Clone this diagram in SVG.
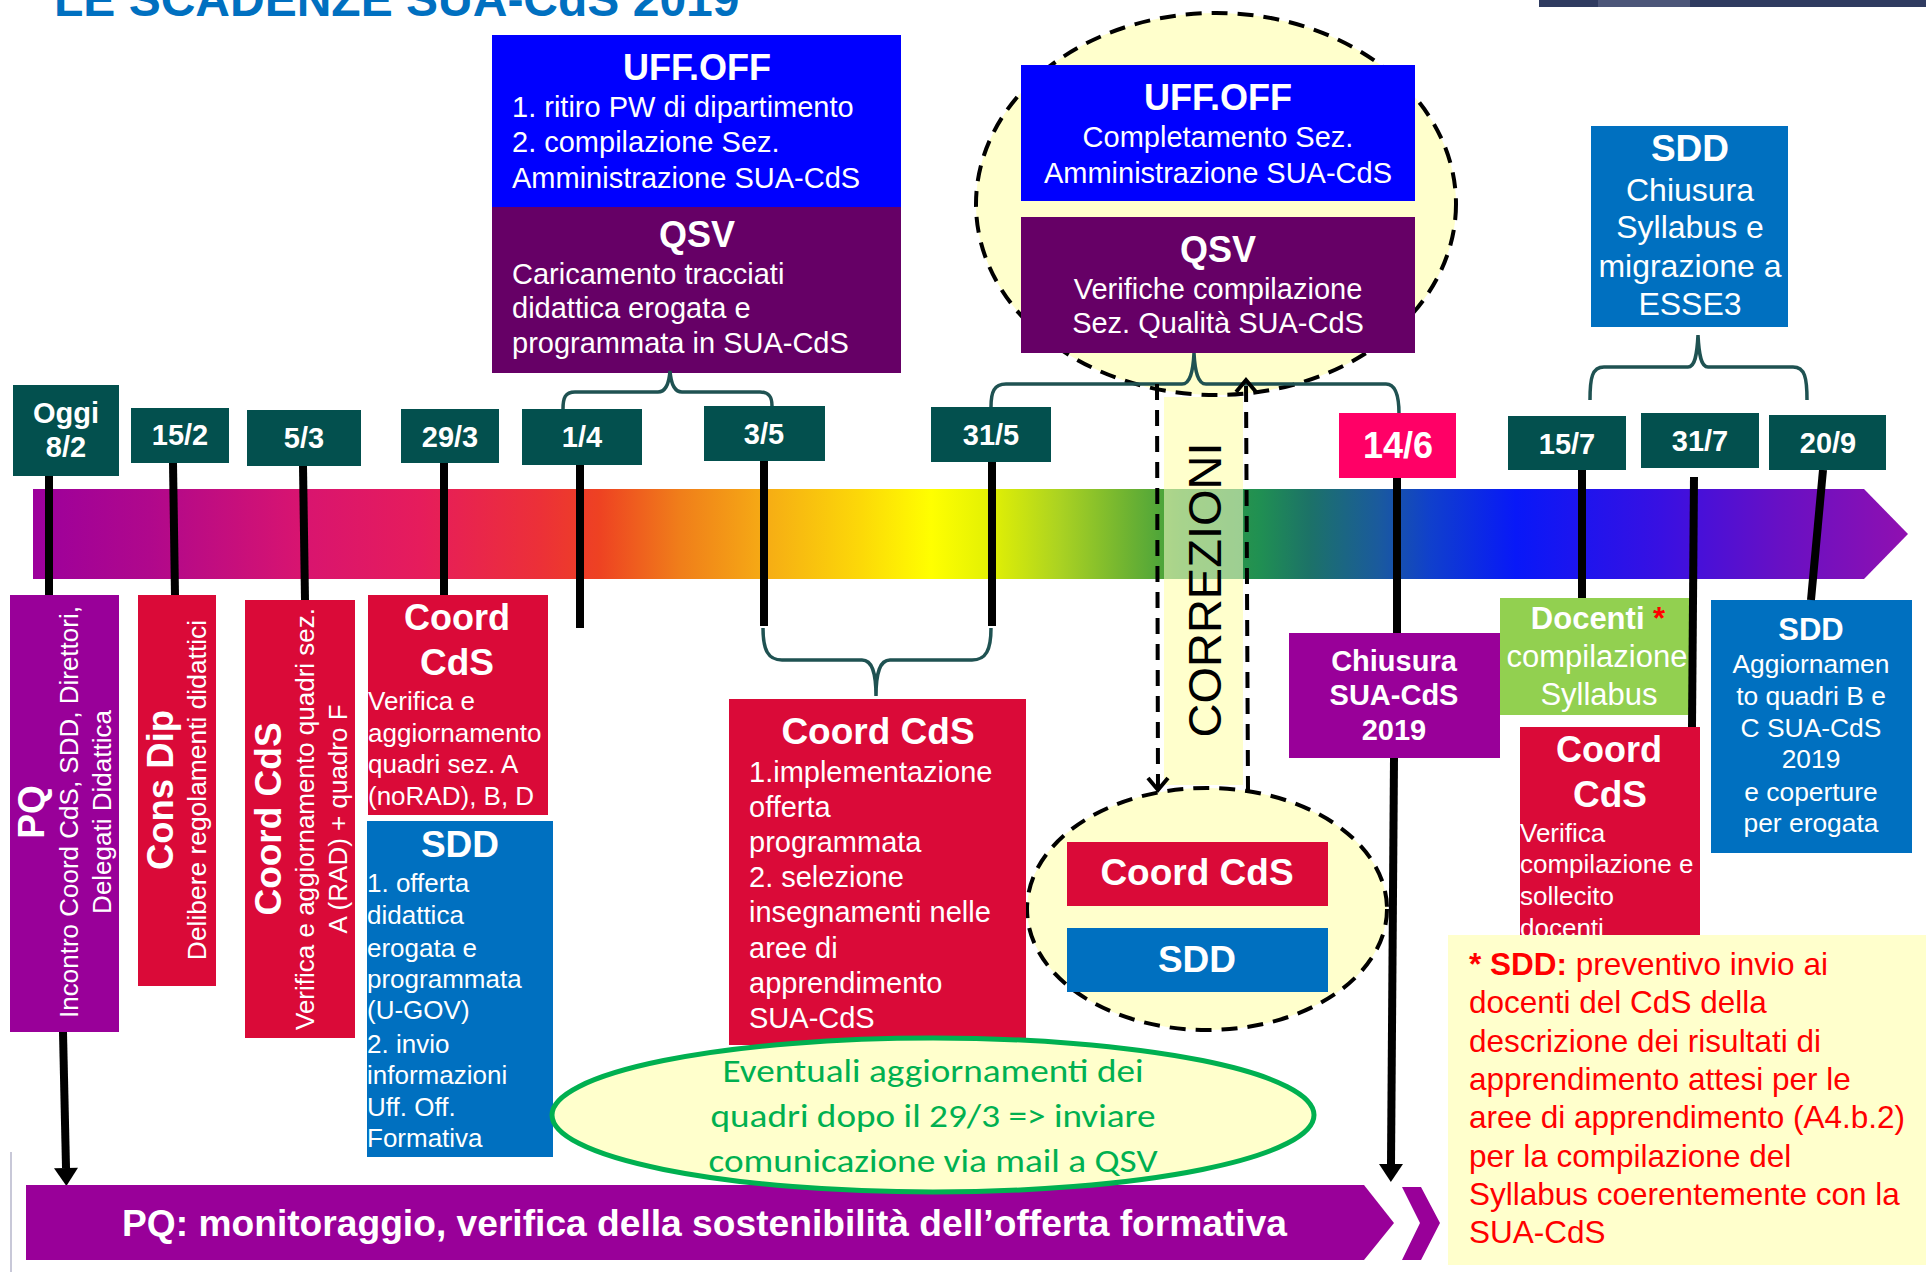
<svg xmlns="http://www.w3.org/2000/svg" width="1926" height="1272" viewBox="0 0 1926 1272">
<defs>
<linearGradient id="rainbow" gradientUnits="userSpaceOnUse" x1="33" y1="0" x2="1908" y2="0">
<stop offset="0" stop-color="#9C009C"/>
<stop offset="0.062" stop-color="#B0088C"/>
<stop offset="0.142" stop-color="#D81470"/>
<stop offset="0.206" stop-color="#E61C5C"/>
<stop offset="0.27" stop-color="#EC3038"/>
<stop offset="0.302" stop-color="#EE4222"/>
<stop offset="0.345" stop-color="#F07E1A"/>
<stop offset="0.393" stop-color="#F6AE14"/>
<stop offset="0.441" stop-color="#FCD808"/>
<stop offset="0.479" stop-color="#FFFF00"/>
<stop offset="0.511" stop-color="#E2F004"/>
<stop offset="0.548" stop-color="#AAD222"/>
<stop offset="0.585" stop-color="#6CB232"/>
<stop offset="0.612" stop-color="#3E9E3E"/>
<stop offset="0.654" stop-color="#209052"/>
<stop offset="0.681" stop-color="#1C7268"/>
<stop offset="0.718" stop-color="#1A5A9E"/>
<stop offset="0.745" stop-color="#1040CC"/>
<stop offset="0.791" stop-color="#0818F8"/>
<stop offset="0.868" stop-color="#3810E2"/>
<stop offset="0.932" stop-color="#6810C4"/>
<stop offset="1" stop-color="#9010B0"/>
</linearGradient>
<marker id="arrowSolid" markerUnits="userSpaceOnUse" markerWidth="18" markerHeight="24" refX="0" refY="12" orient="auto" overflow="visible">
<path d="M0,0 L18,12 L0,24 z" fill="#000"/>
</marker>
<marker id="arrowOpen" markerUnits="userSpaceOnUse" markerWidth="14" markerHeight="24" refX="12" refY="10" orient="auto" overflow="visible">
<path d="M0,0 L12,10 L0,20" fill="none" stroke="#000" stroke-width="4" stroke-dasharray="none"/>
</marker>
<style>
text{font-family:"Liberation Sans",Arial,sans-serif;}
.w{fill:#fff;}
.b{font-weight:bold;}
.c{text-anchor:middle;}
.date{fill:#fff;font-weight:bold;font-size:29px;text-anchor:middle;}
.date-big{fill:#fff;font-weight:bold;font-size:36px;text-anchor:middle;}
.dbox{fill:#03504E;}
.red{fill:#DA0A38;}
.pur{fill:#990099;}
.qsv{fill:#660066;}
.uff{fill:#0000FF;}
.sdd{fill:#0070C0;}
.t26{font-size:26px;}
.t29{font-size:29px;}
.t32{font-size:32px;}
.h36{font-size:36px;font-weight:bold;}
.h37{font-size:37px;font-weight:bold;}
.vline{stroke:#000;stroke-width:8;fill:none;}
.brace{stroke:#1F5252;stroke-width:3.5;fill:none;}
.dash{stroke:#000;stroke-width:4;stroke-dasharray:16 10;fill:#FFFFCC;}
.dline{stroke:#000;stroke-width:4;stroke-dasharray:16 10;fill:none;}
.green{fill:#00B050;font-family:Carlito,Calibri,"Liberation Sans",sans-serif;font-size:33px;text-anchor:middle;}
.note{fill:#FF0000;font-size:31.5px;}
</style>
</defs>

<rect width="1926" height="1272" fill="#fff"/>

<g id="title">
<text x="54" y="16" fill="#0070C0" font-size="48" font-weight="bold">LE SCADENZE SUA-CdS 2019</text>
<rect x="1539" y="0" width="387" height="7" fill="#2F3B60"/>
<rect x="1598" y="0" width="92" height="7" fill="#4C5679"/>
</g>

<g id="correzioni-top">
<ellipse cx="1216" cy="204" rx="240" ry="191" class="dash"/>
</g>

<g id="uffoff-completamento">
<rect x="1021" y="65" width="394" height="136" class="uff"/>
<text x="1218" y="110" class="w c h36">UFF.OFF</text>
<text x="1218" y="147" class="w c t29">Completamento Sez.</text>
<text x="1218" y="183" class="w c t29">Amministrazione SUA-CdS</text>
</g>
<g id="qsv-verifiche">
<rect x="1021" y="217" width="394" height="136" class="qsv"/>
<text x="1218" y="262" class="w c h36">QSV</text>
<text x="1218" y="299" class="w c t29">Verifiche compilazione</text>
<text x="1218" y="333" class="w c t29">Sez. Qualità SUA-CdS</text>
</g>

<g id="uffoff-ritiro">
<rect x="492" y="35" width="409" height="172" class="uff"/>
<text x="697" y="80" class="w c h36">UFF.OFF</text>
<text x="512" y="117" class="w t29">1. ritiro PW di dipartimento</text>
<text x="512" y="152" class="w t29">2. compilazione Sez.</text>
<text x="512" y="188" class="w t29">Amministrazione SUA-CdS</text>
</g>
<g id="qsv-caricamento">
<rect x="492" y="207" width="409" height="166" class="qsv"/>
<text x="697" y="247" class="w c h36">QSV</text>
<text x="512" y="284" class="w t29">Caricamento tracciati</text>
<text x="512" y="318" class="w t29">didattica erogata e</text>
<text x="512" y="353" class="w t29">programmata in SUA-CdS</text>
</g>

<g id="sdd-chiusura-syllabus">
<rect x="1591" y="126" width="197" height="201" class="sdd"/>
<text x="1690" y="161" class="w c h37">SDD</text>
<text x="1690" y="201" class="w c t32">Chiusura</text>
<text x="1690" y="238" class="w c t32">Syllabus e</text>
<text x="1690" y="277" class="w c t32">migrazione a</text>
<text x="1690" y="315" class="w c t32">ESSE3</text>
</g>

<g id="timeline">
<polygon points="33,489 1864,489 1908,534 1864,579 33,579" fill="url(#rainbow)"/>
</g>

<g id="correzioni-bottom">
<ellipse cx="1207" cy="909" rx="180" ry="121" class="dash"/>
<rect x="1067" y="842" width="261" height="64" class="red"/>
<text x="1197" y="885" class="w c h37">Coord CdS</text>
<rect x="1067" y="928" width="261" height="64" class="sdd"/>
<text x="1197" y="972" class="w c h37">SDD</text>
</g>

<g id="correzioni-band">
<rect x="1164" y="397" width="79" height="92" fill="#FFFFCC"/>
<rect x="1164" y="489" width="79" height="90" fill="#FFFFCC" opacity="0.55"/>
<rect x="1164" y="579" width="79" height="206" fill="#FFFFCC"/>
<text transform="translate(1221,590) rotate(-90)" class="c" font-size="47" fill="#000">CORREZIONI</text>
</g>

<g id="pq-incontro">
<rect x="10" y="595" width="109" height="437" class="pur"/>
<text transform="translate(44,812) rotate(-90)" class="w c b" font-size="37">PQ</text>
<text transform="translate(78,812) rotate(-90)" class="w c t26">Incontro Coord CdS, SDD, Direttori,</text>
<text transform="translate(111,812) rotate(-90)" class="w c t26">Delegati Didattica</text>
</g>

<g id="cons-dip">
<rect x="138" y="595" width="78" height="391" class="red"/>
<text transform="translate(173,790) rotate(-90)" class="w c b" font-size="36.5">Cons Dip</text>
<text transform="translate(206,790) rotate(-90)" class="w c" font-size="26.4">Delibere regolamenti didattici</text>
</g>

<g id="coord-cds-verifica-rad">
<rect x="245" y="600" width="110" height="438" class="red"/>
<text transform="translate(281,819) rotate(-90)" class="w c h37">Coord CdS</text>
<text transform="translate(314,819) rotate(-90)" class="w c t26">Verifica e aggiornamento quadri sez.</text>
<text transform="translate(347,819) rotate(-90)" class="w c t26">A (RAD) + quadro F</text>
</g>

<g id="coord-cds-verifica-norad">
<rect x="368" y="595" width="180" height="220" class="red"/>
<text x="457" y="630" class="w c h36">Coord</text>
<text x="457" y="675" class="w c h37">CdS</text>
<text x="368" y="710" class="w t26">Verifica e</text>
<text x="368" y="742" class="w t26">aggiornamento</text>
<text x="368" y="773" class="w t26">quadri sez. A</text>
<text x="368" y="805" class="w t26">(noRAD), B, D</text>
</g>

<g id="sdd-offerta">
<rect x="367" y="821" width="186" height="336" class="sdd"/>
<text x="460" y="857" class="w c h37">SDD</text>
<text x="367" y="892" class="w t26">1. offerta</text>
<text x="367" y="924" class="w t26">didattica</text>
<text x="367" y="957" class="w t26">erogata e</text>
<text x="367" y="988" class="w t26">programmata</text>
<text x="367" y="1019" class="w t26">(U-GOV)</text>
<text x="367" y="1053" class="w t26">2. invio</text>
<text x="367" y="1084" class="w t26">informazioni</text>
<text x="367" y="1116" class="w t26">Uff. Off.</text>
<text x="367" y="1147" class="w t26">Formativa</text>
</g>

<g id="coord-cds-implementazione">
<rect x="729" y="699" width="297" height="346" class="red"/>
<text x="878" y="744" class="w c h37">Coord CdS</text>
<text x="749" y="782" class="w t29">1.implementazione</text>
<text x="749" y="817" class="w t29">offerta</text>
<text x="749" y="852" class="w t29">programmata</text>
<text x="749" y="887" class="w t29">2. selezione</text>
<text x="749" y="922" class="w t29">insegnamenti nelle</text>
<text x="749" y="958" class="w t29">aree di</text>
<text x="749" y="993" class="w t29">apprendimento</text>
<text x="749" y="1028" class="w t29">SUA-CdS</text>
</g>

<g id="chiusura-sua">
<rect x="1289" y="633" width="211" height="125" class="pur"/>
<text x="1394" y="671" class="w c b" font-size="29">Chiusura</text>
<text x="1394" y="705" class="w c b" font-size="29">SUA-CdS</text>
<text x="1394" y="740" class="w c b" font-size="29">2019</text>
</g>

<g id="docenti-syllabus">
<rect x="1500" y="598" width="189" height="117" fill="#92D050"/>
<text x="1598" y="629" class="w c b" font-size="31">Docenti<tspan fill="#FF0000"> *</tspan></text>
<text x="1597" y="667" class="w c" font-size="31">compilazione</text>
<text x="1599" y="705" class="w c" font-size="31">Syllabus</text>
</g>

<g id="coord-cds-sollecito">
<rect x="1520" y="727" width="180" height="220" class="red"/>
<text x="1609" y="762" class="w c h36">Coord</text>
<text x="1610" y="807" class="w c h37">CdS</text>
<text x="1520" y="842" class="w t26">Verifica</text>
<text x="1520" y="873" class="w t26">compilazione e</text>
<text x="1520" y="905" class="w t26">sollecito</text>
<text x="1520" y="937" class="w t26">docenti</text>
</g>

<g id="sdd-aggiornamento">
<rect x="1711" y="600" width="201" height="253" class="sdd"/>
<text x="1811" y="640" class="w c b" font-size="31">SDD</text>
<text x="1811" y="673" class="w c" font-size="26.4">Aggiornamen</text>
<text x="1811" y="705" class="w c" font-size="26.4">to quadri B e</text>
<text x="1811" y="737" class="w c" font-size="26.4">C SUA-CdS</text>
<text x="1811" y="768" class="w c" font-size="26.4">2019</text>
<text x="1811" y="801" class="w c" font-size="26.4">e coperture</text>
<text x="1811" y="832" class="w c" font-size="26.4">per erogata</text>
</g>

<g id="connectors">
<line x1="49" y1="476" x2="49" y2="595" class="vline"/>
<line x1="173" y1="463" x2="175" y2="595" class="vline"/>
<line x1="303" y1="466" x2="305" y2="600" class="vline"/>
<line x1="444" y1="463" x2="444" y2="595" class="vline"/>
<line x1="580" y1="465" x2="580" y2="628" class="vline"/>
<line x1="764" y1="461" x2="764" y2="626" class="vline"/>
<line x1="992" y1="462" x2="992" y2="626" class="vline"/>
<line x1="1397" y1="478" x2="1397" y2="633" class="vline"/>
<line x1="1582" y1="470" x2="1582" y2="598" class="vline"/>
<line x1="1694" y1="477" x2="1692" y2="727" class="vline"/>
<line x1="1823" y1="470" x2="1811" y2="600" class="vline"/>
<line x1="63" y1="1032" x2="66" y2="1168" class="vline" marker-end="url(#arrowSolid)"/>
<line x1="1394" y1="758" x2="1391" y2="1164" class="vline" marker-end="url(#arrowSolid)"/>
<path class="brace" d="M563,409 C563,398 565,392 575,392 L658,392 C666,392 669,384 670,371 C671,384 674,392 682,392 L760,392 C770,392 772,398 772,406"/>
<path class="brace" d="M763,628 C763,650 768,660 782,660 L862,660 C872,660 876,672 876,696 C876,672 880,660 890,660 L972,660 C986,660 991,650 991,628"/>
<path class="brace" d="M991,407 C991,392 994,384 1006,384 L1182,384 C1190,384 1193,372 1194,353 C1195,372 1198,384 1206,384 L1386,384 C1396,384 1399,396 1399,414"/>
<path class="brace" d="M1590,400 C1590,378 1592,367 1604,367 L1688,367 C1695,367 1697,355 1698,335 C1699,355 1701,367 1708,367 L1793,367 C1805,367 1807,378 1807,400"/>
<line x1="1157" y1="384" x2="1158" y2="790" class="dline" marker-end="url(#arrowOpen)"/>
<line x1="1248" y1="792" x2="1246" y2="380" class="dline" marker-end="url(#arrowOpen)"/>
</g>

<g id="date-oggi"><rect x="13" y="385" width="106" height="91" class="dbox"/><text x="66" y="423" class="date">Oggi</text><text x="66" y="457" class="date">8/2</text></g>
<g id="date-15-2"><rect x="131" y="408" width="98" height="55" class="dbox"/><text x="180" y="445" class="date">15/2</text></g>
<g id="date-5-3"><rect x="247" y="410" width="114" height="56" class="dbox"/><text x="304" y="448" class="date">5/3</text></g>
<g id="date-29-3"><rect x="401" y="409" width="98" height="54" class="dbox"/><text x="450" y="447" class="date">29/3</text></g>
<g id="date-1-4"><rect x="522" y="409" width="120" height="56" class="dbox"/><text x="582" y="447" class="date">1/4</text></g>
<g id="date-3-5"><rect x="704" y="406" width="121" height="55" class="dbox"/><text x="764" y="444" class="date">3/5</text></g>
<g id="date-31-5"><rect x="931" y="407" width="120" height="55" class="dbox"/><text x="991" y="445" class="date">31/5</text></g>
<g id="date-14-6"><rect x="1339" y="413" width="117" height="65" fill="#FF0066"/><text x="1398" y="458" class="date-big">14/6</text></g>
<g id="date-15-7"><rect x="1508" y="416" width="118" height="54" class="dbox"/><text x="1567" y="454" class="date">15/7</text></g>
<g id="date-31-7"><rect x="1641" y="413" width="118" height="55" class="dbox"/><text x="1700" y="451" class="date">31/7</text></g>
<g id="date-20-9"><rect x="1769" y="415" width="117" height="55" class="dbox"/><text x="1828" y="453" class="date">20/9</text></g>

<g id="pq-monitoraggio">
<line x1="11" y1="1152" x2="11" y2="1272" stroke="#C8C8D8" stroke-width="2"/>
<polygon points="26,1185 1364,1185 1394,1223 1364,1260 26,1260" class="pur"/>
<polygon points="1402,1187 1421,1187 1440,1223 1421,1260 1402,1260 1420,1223" class="pur"/>
<text x="122" y="1236" class="w b" font-size="36" textLength="1165" lengthAdjust="spacingAndGlyphs">PQ: monitoraggio, verifica della sostenibilità dell’offerta formativa</text>
</g>

<g id="eventuali-aggiornamenti">
<ellipse cx="933" cy="1115" rx="381" ry="77" fill="#FFFFCC" stroke="#00B050" stroke-width="5"/>
<text x="933" y="1082" class="green" textLength="421" lengthAdjust="spacingAndGlyphs">Eventuali aggiornamenti dei</text>
<text x="933" y="1127" class="green" textLength="445" lengthAdjust="spacingAndGlyphs">quadri dopo il 29/3 =&gt; inviare</text>
<text x="933" y="1172" class="green" textLength="449" lengthAdjust="spacingAndGlyphs">comunicazione via mail a QSV</text>
</g>

<g id="nota-sdd">
<rect x="1448" y="935" width="478" height="330" fill="#FFFFCC"/>
<text x="1469" y="975" class="note"><tspan font-weight="bold">* SDD:</tspan> preventivo invio ai</text>
<text x="1469" y="1013" class="note">docenti del CdS della</text>
<text x="1469" y="1052" class="note">descrizione dei risultati di</text>
<text x="1469" y="1090" class="note">apprendimento attesi per le</text>
<text x="1469" y="1128" class="note">aree di apprendimento (A4.b.2)</text>
<text x="1469" y="1167" class="note">per la compilazione del</text>
<text x="1469" y="1205" class="note">Syllabus coerentemente con la</text>
<text x="1469" y="1243" class="note">SUA-CdS</text>
</g>
</svg>
